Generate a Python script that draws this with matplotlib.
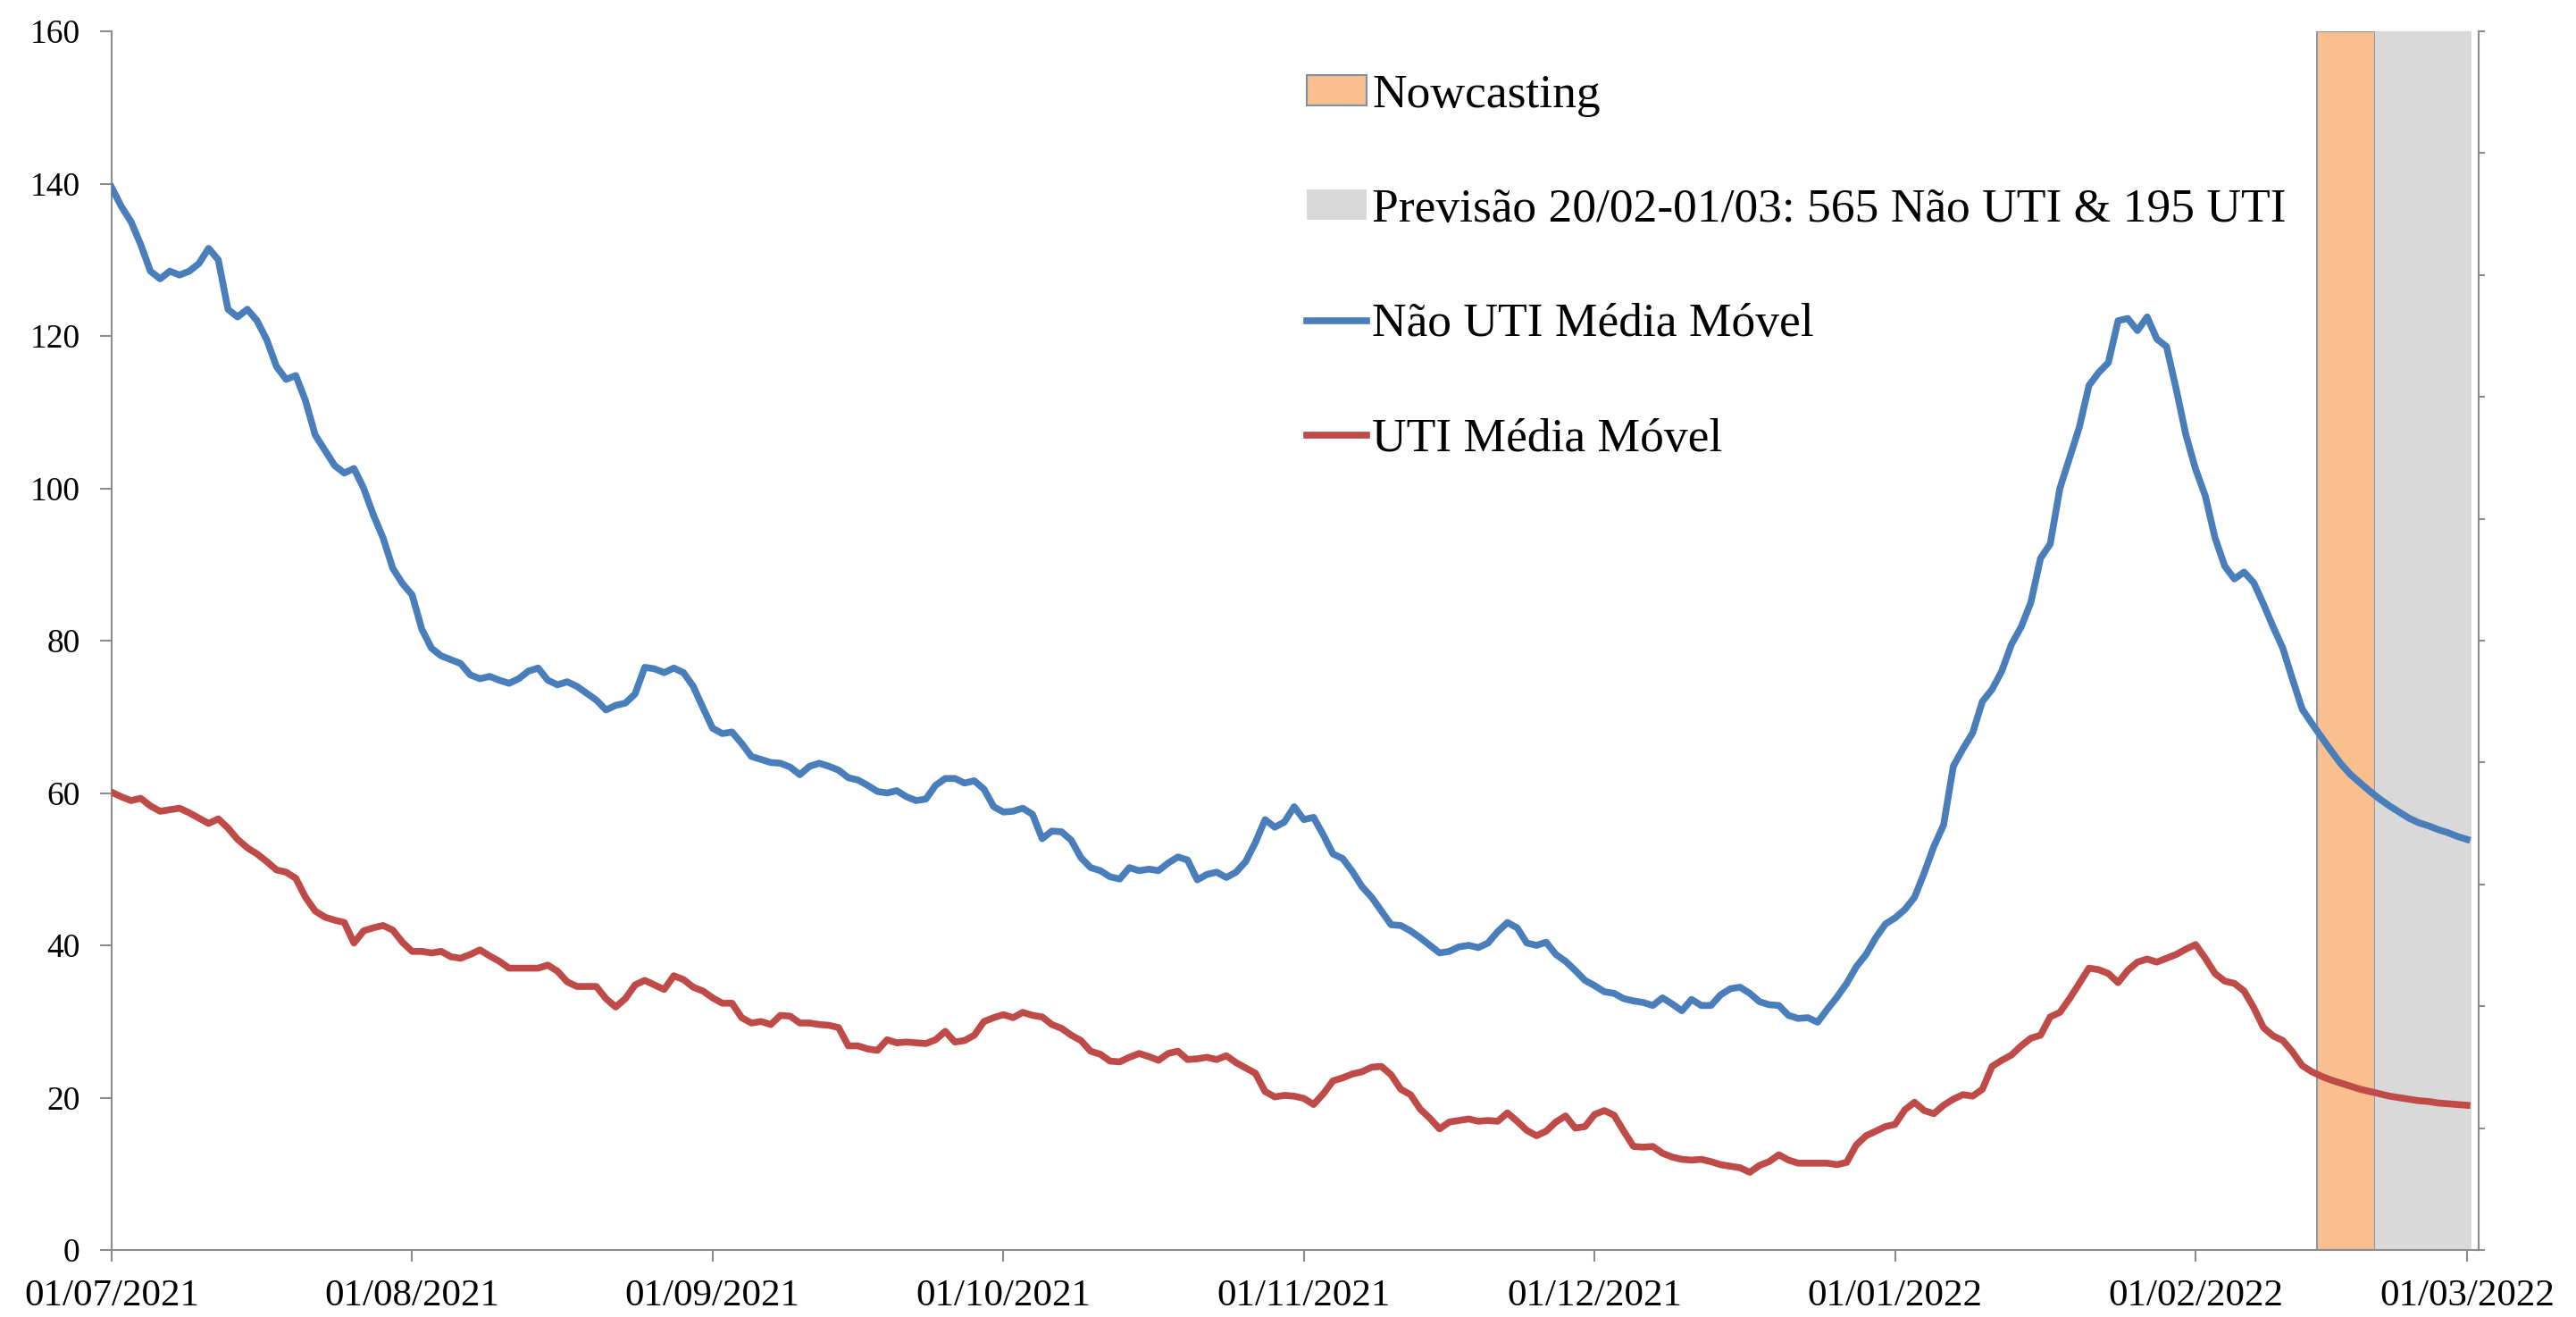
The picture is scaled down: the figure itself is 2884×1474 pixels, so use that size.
import matplotlib
matplotlib.use("Agg")
import matplotlib.pyplot as plt
import matplotlib.dates as mdates
from matplotlib.patches import Patch
from matplotlib.lines import Line2D
import numpy as np
import pandas as pd

plt.rcParams["font.family"] = ["Liberation Serif", "DejaVu Serif"]

# Média móvel diária, 01/07/2021 a 01/03/2022
start_date = "2021-07-01"

nao_uti = [
    139.5, 137, 135, 132, 128.5, 127.5, 128.5, 128, 128.5, 129.5,
    131.5, 130, 123.5, 122.5, 123.5, 122, 119.5, 116, 114.3, 114.8,
    111.5, 107, 105, 103, 102, 102.6, 100, 96.5, 93.5, 89.5,
    87.5, 86, 81.5, 79, 78, 77.5, 77, 75.5, 75, 75.3,
    74.8, 74.4, 75, 76, 76.4, 74.8, 74.2, 74.6, 74, 73.1,
    72.2, 70.9, 71.5, 71.8, 73, 76.5, 76.3, 75.8, 76.4, 75.8,
    74, 71.2, 68.5, 67.8, 68, 66.5, 64.8, 64.4, 64, 63.9,
    63.4, 62.4, 63.5, 63.9, 63.5, 63, 62, 61.7, 61, 60.2,
    60, 60.3, 59.5, 59, 59.2, 61, 61.9, 61.9, 61.3, 61.6,
    60.5, 58.2, 57.5, 57.6, 58, 57.2, 54, 55, 54.9, 53.8,
    51.5, 50.2, 49.8, 49, 48.7, 50.2, 49.8, 50, 49.8, 50.8,
    51.6, 51.2, 48.6, 49.3, 49.6, 48.9, 49.6, 51, 53.5, 56.5,
    55.5, 56.2, 58.2, 56.5, 56.8, 54.5, 52, 51.4, 49.7, 47.7,
    46.3, 44.5, 42.7, 42.6, 41.9, 41, 40, 39, 39.2, 39.8,
    40, 39.7, 40.3, 41.8, 43, 42.3, 40.3, 40, 40.4, 38.8,
    37.9, 36.7, 35.4, 34.7, 33.9, 33.7, 33, 32.7, 32.5, 32.1,
    33.1, 32.3, 31.4, 32.9, 32.1, 32.1, 33.5, 34.3, 34.5, 33.7,
    32.6, 32.2, 32.1, 30.8, 30.4, 30.5, 29.9, 31.6, 33.2, 35,
    37.2, 38.8, 41, 42.8, 43.6, 44.7, 46.3, 49.5, 53, 55.8,
    63.5, 65.8, 67.9, 72, 73.6, 76, 79.5, 81.8, 85, 90.8,
    92.7, 100, 104, 108, 113.5, 115.2, 116.5, 122, 122.3, 120.7,
    122.5, 119.6, 118.6, 113, 107, 102.5, 99, 93.5, 89.8, 88.1,
    89, 87.6, 84.8, 81.8, 79, 74.9, 71, 69.1, 67.3, 65.5,
    63.8, 62.4, 61.3, 60.2, 59.2, 58.3, 57.5, 56.7, 56.1, 55.7,
    55.2, 54.8, 54.3, 53.9,
]

uti = [
    60.1, 59.5, 59, 59.3, 58.3, 57.6, 57.8, 58, 57.4, 56.7,
    56, 56.6, 55.4, 53.9, 52.8, 52, 51, 49.9, 49.6, 48.8,
    46.3, 44.5, 43.7, 43.3, 43, 40.3, 41.9, 42.3, 42.6, 42,
    40.4, 39.2, 39.2, 39, 39.2, 38.5, 38.3, 38.8, 39.4, 38.6,
    37.9, 37, 37, 37, 37, 37.4, 36.6, 35.2, 34.6, 34.6,
    34.6, 33, 31.9, 33, 34.8, 35.4, 34.8, 34.2, 36, 35.5,
    34.5, 34, 33.1, 32.4, 32.4, 30.5, 29.8, 30, 29.6, 30.8,
    30.7, 29.8, 29.8, 29.6, 29.5, 29.2, 26.8, 26.8, 26.4, 26.2,
    27.6, 27.2, 27.3, 27.2, 27.1, 27.6, 28.7, 27.3, 27.5, 28.2,
    30, 30.5, 30.9, 30.5, 31.2, 30.8, 30.6, 29.6, 29.1, 28.2,
    27.5, 26.1, 25.7, 24.8, 24.7, 25.3, 25.8, 25.4, 24.9, 25.8,
    26.1, 25, 25.1, 25.3, 25, 25.5, 24.6, 23.9, 23.2, 20.8,
    20.1, 20.3, 20.2, 19.9, 19.1, 20.5, 22.2, 22.6, 23.1, 23.4,
    24, 24.1, 23, 21.1, 20.4, 18.5, 17.3, 15.9, 16.8, 17,
    17.2, 16.9, 17, 16.9, 18, 16.9, 15.7, 15, 15.6, 16.8,
    17.6, 16, 16.2, 17.8, 18.3, 17.7, 15.6, 13.6, 13.5, 13.6,
    12.7, 12.2, 11.9, 11.8, 11.9, 11.6, 11.2, 11, 10.8, 10.2,
    11.1, 11.6, 12.5, 11.8, 11.4, 11.4, 11.4, 11.4, 11.2, 11.5,
    13.8, 15, 15.6, 16.2, 16.5, 18.4, 19.4, 18.3, 17.9, 19,
    19.8, 20.4, 20.2, 21.1, 24.1, 24.9, 25.6, 26.8, 27.8, 28.2,
    30.6, 31.2, 33, 35, 37, 36.8, 36.3, 35.1, 36.7, 37.8,
    38.2, 37.8, 38.3, 38.8, 39.5, 40.1, 38.3, 36.3, 35.3, 35,
    34, 31.8, 29.2, 28.1, 27.5, 26, 24.2, 23.4, 22.8, 22.3,
    21.9, 21.5, 21.1, 20.8, 20.5, 20.2, 20, 19.8, 19.6, 19.5,
    19.3, 19.2, 19.1, 19,
]

# períodos sombreados (primeiro e último dia)
nowcast_days = ["2022-02-14", "2022-02-19"]
previsao_days = ["2022-02-20", "2022-03-01"]

labels = [
    "Nowcasting",
    "Previsão 20/02-01/03: 565 Não UTI & 195 UTI",
    "Não UTI Média Móvel",
    "UTI Média Móvel",
]

azul = "#4A7EBB"
vermelho = "#BE4B48"
laranja = "#F9BF8E"
cinza = "#D9D9D9"
eixo = "#8C8C8C"

dates = pd.date_range(start_date, periods=len(nao_uti), freq="D")
half = pd.Timedelta(hours=12)

fig = plt.figure(figsize=(28.84, 14.74), dpi=100)
ax = fig.add_axes([125 / 2884, 75 / 1474, (2775 - 125) / 2884, (1399 - 35) / 1474])

ax.axvspan(pd.Timestamp(nowcast_days[0]) - half, pd.Timestamp(nowcast_days[1]) + half,
           facecolor=laranja, edgecolor="#8A9BB0", linewidth=1.5, zorder=0)
ax.axvspan(pd.Timestamp(previsao_days[0]) - half, pd.Timestamp(previsao_days[1]) + half,
           facecolor=cinza, edgecolor="none", zorder=0)

ax.plot(dates, nao_uti, color=azul, linewidth=5.5, zorder=3)
ax.plot(dates, uti, color=vermelho, linewidth=5.5, zorder=3)

ax.set_ylim(0, 160)
ax.set_yticks(np.arange(0, 161, 20))
ax.set_xlim(pd.Timestamp(start_date), pd.Timestamp(start_date) + pd.Timedelta(days=244.2))
ax.xaxis.set_major_locator(mdates.MonthLocator(bymonthday=1))
ax.xaxis.set_major_formatter(mdates.DateFormatter("%d/%m/%Y"))

for s in ["left", "bottom", "right"]:
    ax.spines[s].set_color(eixo)
    ax.spines[s].set_linewidth(1.5)
ax.spines["top"].set_visible(False)
ax.tick_params(axis="x", length=9.5, width=1.5, color=eixo, pad=14, labelsize=31)
ax.tick_params(axis="y", length=9.5, width=1.5, color=eixo, pad=16, labelsize=27)

# eixo secundário só com marcas
ax2 = ax.twinx()
ax2.set_ylim(0, 1)
ax2.set_yticks(np.linspace(0, 1, 11))
ax2.set_yticklabels([])
ax2.tick_params(axis="y", length=5, width=1.5, color=eixo)
for s in ["top", "left", "bottom"]:
    ax2.spines[s].set_visible(False)
ax2.spines["right"].set_color(eixo)
ax2.spines["right"].set_linewidth(1.5)

handles = [
    Patch(facecolor=laranja, edgecolor="#7F8FA6", linewidth=1.5),
    Patch(facecolor=cinza, edgecolor="none"),
    Line2D([0], [0], color=azul, linewidth=5.5),
    Line2D([0], [0], color=vermelho, linewidth=5.5),
]
fig.legend(handles, labels, loc="upper left", bbox_to_anchor=(1463 / 2884, 1 - 83 / 1474),
           frameon=False, fontsize=38.5, handlelength=1.25, handleheight=0.6,
           handletextpad=0.12, labelspacing=1.5, borderpad=0, borderaxespad=0)

fig.savefig("out.png", dpi=100)
